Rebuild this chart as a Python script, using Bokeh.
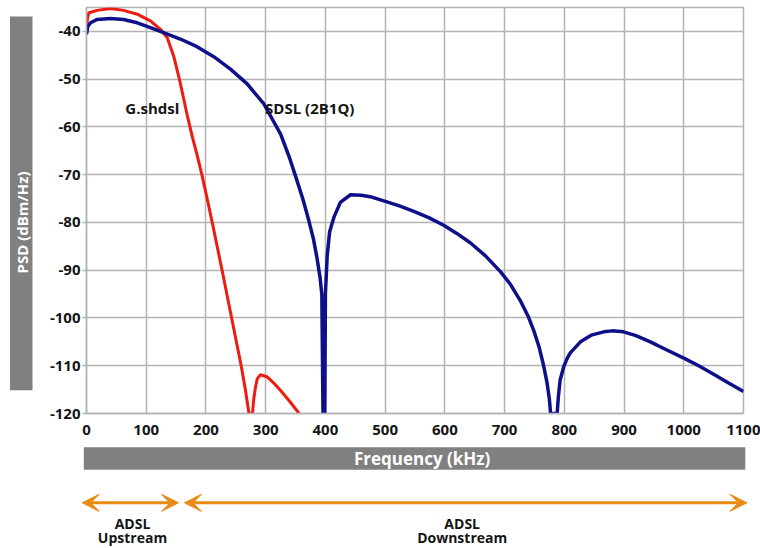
from math import pi
from bokeh.plotting import figure
from bokeh.layouts import column, row
from bokeh.models import Range1d, FixedTicker, PrintfTickFormatter, Arrow, VeeHead
from bokeh.embed import file_html
from bokeh.resources import INLINE
from bokeh.core.properties import value

# ---- data ----
sdsl_f = [0, 2, 6.7, 18, 40, 62, 85, 107, 130, 157, 185, 213, 241, 269, 297, 325,
          340, 350, 362, 372, 380, 386, 391, 394, 396, 399, 400, 403, 407, 414, 425,
          442, 460, 475, 503, 525, 548, 573, 598, 620, 643, 668, 693, 710, 726, 740,
          749, 758, 765, 771, 775, 777, 788, 790, 793, 799, 805, 810, 827, 845, 866,
          880, 899, 920, 944, 970, 1000, 1025, 1050, 1075, 1100]
sdsl_db = [-40.6, -39.0, -38.2, -37.5, -37.3, -37.5, -38.2, -39.2, -40.3, -41.6, -43.2,
           -45.3, -47.9, -51.0, -55.2, -61.5, -66.5, -70.3, -75.0, -79.5, -83.5, -87.5,
           -91.5, -95.0, -120.0, -120.0, -95.0, -87.0, -82.0, -79.0, -75.8, -74.2, -74.3,
           -74.6, -75.7, -76.6, -77.7, -79.0, -80.6, -82.3, -84.3, -87.0, -90.3, -93.0,
           -96.3, -99.8, -102.7, -106.2, -109.8, -113.5, -117.0, -120.0, -120.0, -116.5,
           -113.0, -110.2, -108.4, -107.3, -105.0, -103.6, -102.9, -102.7, -102.9, -103.7,
           -105.0, -106.6, -108.4, -110.0, -111.8, -113.6, -115.4]

gshdsl_f = [0, 1, 2, 4, 18, 40, 62, 85, 107, 124, 135, 146, 157, 168, 177, 185, 193.5,
            202, 211, 227, 243, 259, 266, 272, 278, 280, 283, 286, 291, 302, 315, 325,
            341, 356]
gshdsl_db = [-40.6, -38.0, -37.0, -36.1, -35.6, -35.2, -35.6, -36.4, -37.8, -39.6, -41.3,
             -45.2, -50.8, -57.2, -62.0, -65.8, -70.2, -75.0, -80.3, -90.0, -100.0, -110.0,
             -115.0, -120.0, -120.0, -117.0, -114.4, -112.7, -111.9, -112.3, -113.8,
             -115.2, -117.6, -120.0]

x_ticks = [0, 100, 200, 300, 400, 500, 600, 700, 800, 900, 1000, 1100]
y_ticks = [-40, -50, -60, -70, -80, -90, -100, -110, -120]

series_names = ["G.shdsl", "SDSL (2B1Q)"]
band_edges = [(-7.2, 154.0), (164.0, 1105.8)]
band_label_x = [77, 629]
band_names = [("ADSL", "Upstream"), ("ADSL", "Downstream")]
x_title = "Frequency (kHz)"
y_title = "PSD (dBm/Hz)"

# ---- styles ----
FONT = "Open Sans"
GRID = "#b3b3b3"
BAR = "#808080"
ORANGE = "#e88a14"
BLUE = "#0f0f8a"
RED = "#ee1c10"
INK = "#151515"

X0, X1 = 0, 1100
Y0, Y1 = -120, -35
FRAME_L, FRAME_R, FRAME_T, FRAME_B = 86, 743, 7, 413
TOP_H = 440
kx = (FRAME_R - FRAME_L) / (X1 - X0)      # px per kHz
ky = (FRAME_B - FRAME_T) / (Y1 - Y0)      # px per dB

# ---- main chart ----
p = figure(width=760 - 36, height=TOP_H, output_backend="svg", toolbar_location=None,
           x_range=Range1d(X0, X1), y_range=Range1d(Y0, Y1),
           min_border_left=FRAME_L - 36, min_border_right=760 - FRAME_R,
           min_border_top=FRAME_T, min_border_bottom=TOP_H - FRAME_B,
           background_fill_color="white", border_fill_color="white")

p.xaxis.ticker = FixedTicker(ticks=x_ticks)
p.yaxis.ticker = FixedTicker(ticks=y_ticks)
p.yaxis.formatter = PrintfTickFormatter(format="%d")
for ax in (p.xaxis, p.yaxis):
    ax.axis_line_color = GRID
    ax.axis_line_width = 1.5
    ax.major_tick_line_color = GRID
    ax.major_tick_line_width = 1.5
    ax.minor_tick_line_color = None
    ax.major_label_text_font = FONT
    ax.major_label_text_font_style = "bold"
    ax.major_label_text_font_size = "15px"
    ax.major_label_text_color = INK
p.xaxis.major_tick_out = 0
p.xaxis.major_tick_in = 0
p.xaxis.major_label_standoff = 11
p.yaxis.major_tick_out = 4
p.yaxis.major_tick_in = 0
p.yaxis.major_label_standoff = 2

p.grid.grid_line_color = GRID
p.grid.grid_line_width = 1.5
p.outline_line_color = GRID
p.outline_line_width = 1.5

p.line(gshdsl_f, gshdsl_db, line_color=RED, line_width=3)
p.line(sdsl_f, sdsl_db, line_color=BLUE, line_width=3.5)

p.text(x=[65, 299], y=[-56, -56], text=series_names, text_baseline="middle",
       text_font=value(FONT), text_font_style="bold", text_font_size="15px",
       text_color=INK)

# ---- left grey bar with the y title ----
left = figure(width=36, height=TOP_H, output_backend="svg", toolbar_location=None,
              x_range=Range1d(0, 36),
              y_range=Range1d(Y0 - (TOP_H - FRAME_B) / ky, Y1 + FRAME_T / ky),
              x_axis_location=None, y_axis_location=None,
              min_border_left=0, min_border_right=0, min_border_top=0,
              min_border_bottom=0, outline_line_color=None,
              background_fill_color="white", border_fill_color="white")
left.grid.visible = False
left.quad(left=9.5, right=32, top=-35.6, bottom=-120.4, fill_color=BAR,
          line_color=None)
left.text(x=[21], y=[-82.3], text=[y_title], angle=pi / 2, text_align="center",
          text_baseline="middle", text_color="white", text_font=value(FONT),
          text_font_style="bold", text_font_size="15px")

# ---- bottom strip: x title bar and ADSL bands ----
BOT_H = 548 - TOP_H
bot = figure(width=760, height=BOT_H, output_backend="svg", toolbar_location=None,
             x_range=Range1d(X0 - FRAME_L / kx, X0 + (760 - FRAME_L) / kx),
             y_range=Range1d(BOT_H, 0),
             x_axis_location=None, y_axis_location=None,
             min_border_left=0, min_border_right=0, min_border_top=0,
             min_border_bottom=0, outline_line_color=None,
             background_fill_color="white", border_fill_color="white")
bot.grid.visible = False
bot.quad(left=-4.5, right=1103, top=6.7, bottom=29.3, fill_color=BAR, line_color=None)
bot.text(x=[562], y=[18], text=[x_title], text_align="center", text_baseline="middle",
         text_color="white", text_font=value(FONT), text_font_style="bold",
         text_font_size="17px")

for (a, b), lx, (l1, l2) in zip(band_edges, band_label_x, band_names):
    bot.add_layout(Arrow(start=VeeHead(size=17, fill_color=ORANGE, line_color=ORANGE),
                         end=VeeHead(size=17, fill_color=ORANGE, line_color=ORANGE),
                         x_start=a, y_start=62.3, x_end=b, y_end=62.3,
                         line_color=ORANGE, line_width=3))
    bot.text(x=[lx, lx], y=[83, 97], text=[l1, l2], text_align="center",
             text_baseline="middle", text_color=INK, text_font=value(FONT),
             text_font_style="bold", text_font_size="14px")

layout = column(row(left, p, spacing=0), bot, spacing=0)
open("out.html", "w").write(file_html(layout, INLINE))
